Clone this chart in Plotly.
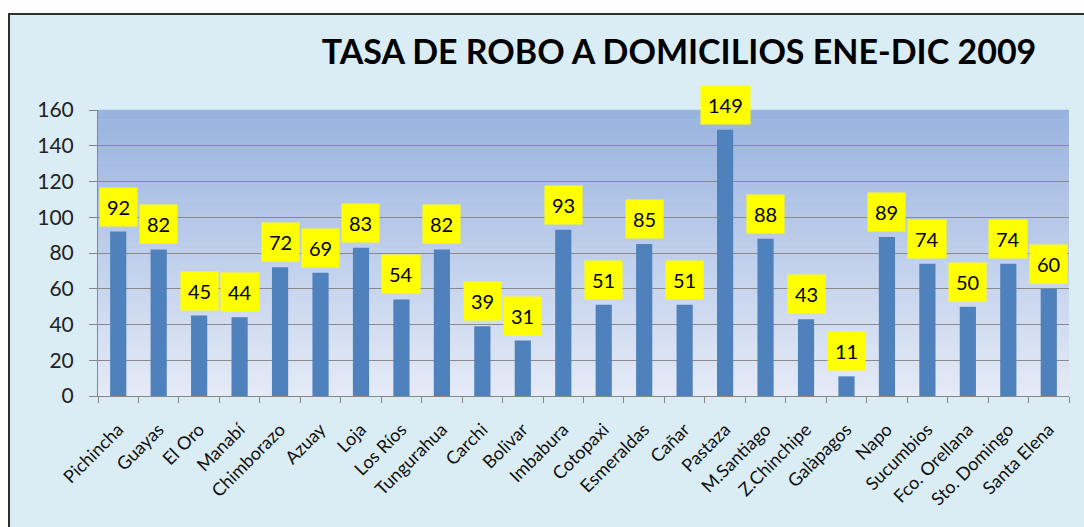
import plotly.graph_objects as go

categories = ["Pichincha", "Guayas", "El Oro", "Manabí", "Chimborazo", "Azuay", "Loja",
              "Los Ríos", "Tungurahua", "Carchi", "Bolivar", "Imbabura", "Cotopaxi",
              "Esmeraldas", "Cañar", "Pastaza", "M.Santiago", "Z.Chinchipe", "Galàpagos",
              "Napo", "Sucumbios", "Fco. Orellana", "Sto. Domingo", "Santa Elena"]
values = [92, 82, 45, 44, 72, 69, 83, 54, 82, 39, 31, 93, 51, 85, 51, 149, 88, 43, 11,
          89, 74, 50, 74, 60]
y_ticks = [0, 20, 40, 60, 80, 100, 120, 140, 160]
title_text = "TASA DE ROBO A DOMICILIOS ENE-DIC 2009"

W, H = 1084, 527
ML, MR, MT, MB = 98, 15, 110, 131
pw = W - ML - MR
ph = H - MT - MB

def px2paper_x(x):
    return (x - ML) / pw

def px2paper_y(y):
    return (H - MB - y) / ph

FONT = "Lato"

fig = go.Figure()
fig.add_trace(go.Bar(x=categories, y=values, marker=dict(color="#4F81BD", line=dict(width=0)),
                     width=0.4, hoverinfo="x+y"))

for c, v in zip(categories, values):
    fig.add_annotation(x=c, y=v, text=str(v), showarrow=False, yshift=25, yanchor="middle",
                       bgcolor="#FFFF00", borderpad=7,
                       font=dict(family=FONT, size=20, color="#000000"))

shapes = []
# outer chart area with border
shapes.append(dict(type="rect", xref="paper", yref="paper", layer="below",
                   x0=px2paper_x(9), x1=px2paper_x(W + 10), y0=px2paper_y(H + 10), y1=px2paper_y(14),
                   fillcolor="#DBEDF4", line=dict(color="#303030", width=2)))
# gradient plot background
top = (153, 179, 224)
bot = (228, 234, 246)
n = 60
for i in range(n):
    t = i / (n - 1)
    col = tuple(round(top[k] + (bot[k] - top[k]) * t) for k in range(3))
    y1 = 1 - i / n
    y0 = 1 - (i + 1) / n
    shapes.append(dict(type="rect", xref="paper", yref="paper", layer="below",
                       x0=0, x1=1, y0=y0 - 0.001, y1=y1 + 0.001,
                       fillcolor="rgb(%d,%d,%d)" % col, line=dict(width=0)))

fig.update_layout(
    width=W, height=H,
    margin=dict(l=ML, r=MR, t=MT, b=MB),
    paper_bgcolor="#FFFFFF",
    plot_bgcolor="rgba(0,0,0,0)",
    shapes=shapes,
    showlegend=False,
    bargap=0.6,
    title=dict(text="<b>" + title_text + "</b>", x=px2paper_x(679), xref="paper", xanchor="center",
               y=1 - 52 / H, yanchor="middle", yref="container",
               font=dict(family=FONT, size=34, color="#000000")),
    xaxis=dict(type="category", tickangle=-45, tickson="boundaries", ticks="outside",
               ticklen=6, tickcolor="#868686", showline=True, linecolor="#868686", linewidth=1,
               showgrid=False, tickfont=dict(family=FONT, size=18, color="#111111"),
               ticklabelstandoff=15,
               range=[-0.5, len(categories) - 0.5], automargin=False),
    yaxis=dict(range=[0, 160], tickvals=y_ticks, ticks="outside", ticklen=8, tickcolor="#868686",
               showline=True, linecolor="#868686", linewidth=1, showgrid=True,
               gridcolor="#8A8A8A", gridwidth=1, zeroline=False, automargin=False,
               ticklabelstandoff=11,
               tickfont=dict(family=FONT, size=21, color="#222222")),
)

fig.write_html("out.html", config={"displayModeBar": False},
               post_script="document.body.style.margin='0';")
